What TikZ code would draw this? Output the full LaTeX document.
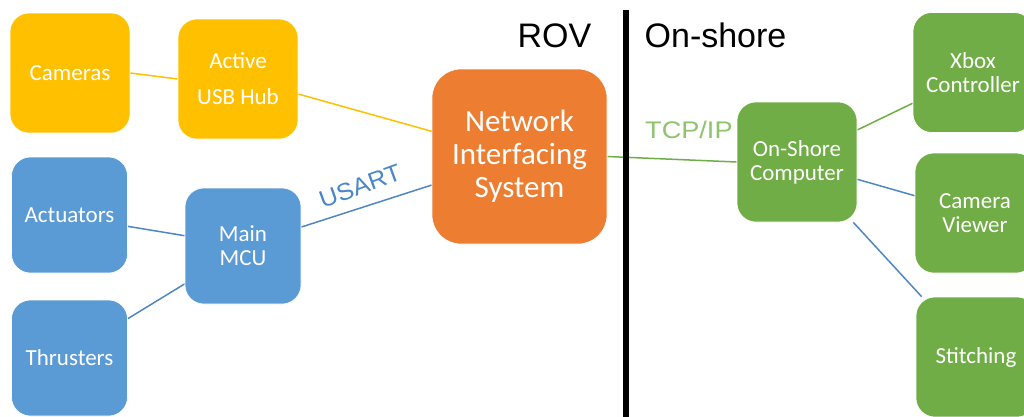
\documentclass[tikz,border=0pt]{standalone}
\usepackage{fontspec}
\setmainfont{Carlito}
\newfontfamily\arialf{Liberation Sans}
\usetikzlibrary{backgrounds}

\definecolor{rovyellow}{HTML}{FFC000}
\definecolor{rovblue}{HTML}{5B9BD5}
\definecolor{linkblue}{HTML}{4F87C4}
\definecolor{roworange}{HTML}{ED7D31}
\definecolor{shoregreen}{HTML}{70AD47}
\definecolor{tcpgreen}{HTML}{8DC46C}
\definecolor{usartblue}{HTML}{4A86C8}

\tikzset{
  block/.style={rectangle, rounded corners=19pt, draw=white, line width=0.6pt,
    text=white, align=center, inner sep=0pt,
    minimum width=#1, minimum height=#1,
    font=\fontsize{23}{24}\selectfont},
  block/.default=120pt,
  yblock/.style={block, fill=rovyellow},
  bblock/.style={block=116pt, fill=rovblue},
  gblock/.style={block, fill=shoregreen},
  yline/.style={draw=rovyellow, line width=1.5pt},
  bline/.style={draw=linkblue, line width=1.5pt},
  gline/.style={draw=shoregreen, line width=1.5pt},
  heading/.style={anchor=base, font=\arialf\fontsize{34}{36}\selectfont},
  linklabel/.style={font=\arialf\fontsize{24}{26}\selectfont, inner sep=0pt},
}

\begin{document}
\begin{tikzpicture}[x=1pt, y=-1pt]
\useasboundingbox (0,0) rectangle (1024,416);
\clip (0,0) rectangle (1024,416);

% ROV side
\node[yblock] (cam) at (70,73) {Cameras};
\node[yblock, font=\fontsize{23}{36}\selectfont] (hub) at (238,79) {Active\\USB Hub};
\node[bblock] (act) at (69.5,215) {Actuators};
\node[bblock] (thr) at (69.5,358) {Thrusters};
\node[bblock] (mcu) at (243,246) {Main\\MCU};

% link labels (drawn before the boxes they run under)
\node[linklabel, text=usartblue, rotate=20] (usart) at (360,186)
  {\scalebox{1.05}[1]{USART}};
\node[linklabel, text=tcpgreen, anchor=base west] (tcp) at (645,138)
  {\scalebox{1.13}[1]{TCP/IP}};

\node[block=175pt, fill=roworange, rounded corners=29pt,
  font=\fontsize{31}{33}\selectfont] (nis) at (519.5,156.5) {Network\\Interfacing\\System};

% on-shore side
\node[gblock] (osc) at (797,162) {On-Shore\\Computer};
\node[gblock] (xbox) at (973,72.5) {Xbox\\Controller};
\node[gblock] (cv) at (975,213) {Camera\\Viewer};
\node[gblock] (st) at (976,357) {Stitching};

% headings and the divider
\node[heading] (rov) at (554.5,47) {ROV};
\node[heading] (shore) at (715.5,47) {On-shore};
\coordinate (divtop) at (626,10);
\coordinate (divbot) at (626,420);
\draw[line width=6.5pt, black] (divtop) -- (divbot);

% connectors
\begin{pgfonlayer}{background}
  \draw[yline] (cam.east) -- (hub.west);
  \draw[yline] (hub.-14) -- (nis.164);
  \draw[bline] (act.-11) -- (mcu.170);
  \draw[bline] (thr.34) -- (mcu.213);
  \draw[bline] (mcu.18) -- (nis.198);
  \draw[gline] (nis.east) -- (osc.west);
  \draw[gline] (osc.28) -- (xbox.207);
  \draw[bline] (osc.-16) -- (cv.164);
  \draw[bline] (osc.-47) -- (st.132);
\end{pgfonlayer}
\end{tikzpicture}
\end{document}
